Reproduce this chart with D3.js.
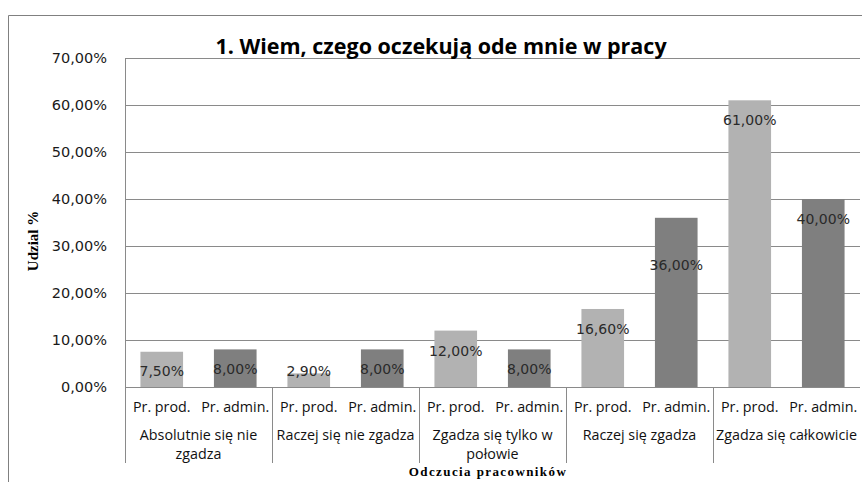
<!DOCTYPE html>
<html>
<head>
<meta charset="utf-8">
<script src="https://cdn.jsdelivr.net/npm/d3@7"></script>
<style>
  body { margin: 0; background: #fff; }
  svg { display: block; }
</style>
</head>
<body>
<svg id="chart"></svg>
<script>
const groups = ["Absolutnie się nie zgadza", "Raczej się nie zgadza", "Zgadza się tylko w połowie", "Raczej się zgadza", "Zgadza się całkowicie"];
const groupLines = [["Absolutnie się nie", "zgadza"], ["Raczej się nie zgadza"], ["Zgadza się tylko w", "połowie"], ["Raczej się zgadza"], ["Zgadza się całkowicie"]];
const series = ["Pr. prod.", "Pr. admin."];
const prodValues = [7.5, 2.9, 12.0, 16.6, 61.0];
const adminValues = [8.0, 8.0, 8.0, 36.0, 40.0];
const yTicks = [0, 10, 20, 30, 40, 50, 60, 70];

const width = 862, height = 482;
const margin = {left: 125, right: 2, top: 58, bottom: 95};
const colors = ["#b2b2b2", "#7f7f7f"];

const svg = d3.select("#chart").attr("width", width).attr("height", height);

// chart frame
svg.append("path")
  .attr("d", `M8.5,${height}V15.5H${width}`)
  .attr("fill", "none").attr("stroke", "#808080");

const x0 = d3.scaleBand().domain(groups).range([margin.left, width - margin.right]);
const x1 = d3.scaleBand().domain(series).range([0, x0.bandwidth()]).paddingInner(0.42).paddingOuter(0.21);
const y = d3.scaleLinear().domain([0, 70]).range([height - margin.bottom, margin.top]);

const fmt = v => v.toFixed(2).replace(".", ",") + "%";

// grid
svg.append("g").selectAll("line").data(yTicks.slice(1)).join("line")
  .attr("x1", margin.left).attr("x2", width - margin.right)
  .attr("y1", d => Math.round(y(d)) + 0.5).attr("y2", d => Math.round(y(d)) + 0.5)
  .attr("stroke", "#8a8a8a");

// y axis
const yAxis = svg.append("g")
  .attr("transform", `translate(${margin.left},0)`)
  .call(d3.axisLeft(y).tickValues(yTicks).tickSize(0).tickPadding(18).tickFormat(fmt));
yAxis.select(".domain").remove();
yAxis.selectAll("text").attr("font-family", "DejaVu Sans, sans-serif").attr("font-size", 14.5).attr("fill", "#1a1a1a");

svg.append("line")
  .attr("x1", margin.left + 0.5).attr("x2", margin.left + 0.5)
  .attr("y1", margin.top).attr("y2", y(0))
  .attr("stroke", "#8a8a8a");

// bars
const rows = groups.map((g, i) => ({g, i, vals: [prodValues[i], adminValues[i]]}));
const labelDy = {"3-1": 47};

const gg = svg.append("g").selectAll("g").data(rows).join("g")
  .attr("transform", d => `translate(${x0(d.g)},0)`);

gg.selectAll("rect").data(d => d.vals.map((v, k) => ({v, k, i: d.i}))).join("rect")
  .attr("x", d => x1(series[d.k]))
  .attr("width", x1.bandwidth())
  .attr("y", d => y(d.v))
  .attr("height", d => y(0) - y(d.v))
  .attr("fill", d => colors[d.k]);

gg.selectAll("text.lbl").data(d => d.vals.map((v, k) => ({v, k, i: d.i}))).join("text")
  .attr("class", "lbl")
  .attr("x", d => x1(series[d.k]) + x1.bandwidth() / 2)
  .attr("y", d => Math.min(y(d.v) + (labelDy[d.i + "-" + d.k] || 20), y(0) - 16))
  .attr("dy", "0.35em")
  .attr("text-anchor", "middle")
  .attr("font-family", "DejaVu Sans, sans-serif").attr("font-size", 14)
  .attr("fill", "#2a2a2a")
  .text(d => fmt(d.v));

// x axis baseline and dividers
const base = Math.round(y(0)) + 0.5;
svg.append("line").attr("x1", margin.left).attr("x2", width - margin.right)
  .attr("y1", base).attr("y2", base).attr("stroke", "#8a8a8a");

svg.append("g").selectAll("line").data(groups.slice(1)).join("line")
  .attr("x1", d => Math.round(x0(d)) + 0.5).attr("x2", d => Math.round(x0(d)) + 0.5)
  .attr("y1", base).attr("y2", 463)
  .attr("stroke", "#8a8a8a");

svg.append("line")
  .attr("x1", margin.left + 0.5).attr("x2", margin.left + 0.5)
  .attr("y1", base).attr("y2", 463).attr("stroke", "#8a8a8a");

// series tick labels
gg.selectAll("text.ser").data(series).join("text")
  .attr("class", "ser")
  .attr("x", d => x1(d) + x1.bandwidth() / 2)
  .attr("y", 407).attr("dy", "0.35em")
  .attr("text-anchor", "middle")
  .attr("font-family", "Open Sans, sans-serif").attr("font-size", 14.3)
  .attr("fill", "#111")
  .text(d => d);

// group labels
gg.each(function (d) {
  const t = d3.select(this).append("text")
    .attr("x", x0.bandwidth() / 2).attr("y", 435)
    .attr("text-anchor", "middle")
    .attr("font-family", "Open Sans, sans-serif").attr("font-size", 14.3)
    .attr("fill", "#111");
  groupLines[d.i].forEach((line, j) => {
    t.append("tspan").attr("x", x0.bandwidth() / 2).attr("dy", j === 0 ? "0.35em" : "19px").text(line);
  });
});

// titles
svg.append("text")
  .attr("x", 441).attr("y", 46).attr("dy", "0.35em")
  .attr("text-anchor", "middle")
  .attr("font-family", "Open Sans, sans-serif").attr("font-weight", "bold").attr("font-size", 21.5)
  .attr("fill", "#000")
  .text("1. Wiem, czego oczekują ode mnie w pracy");

svg.append("text")
  .attr("x", 488).attr("y", 471).attr("dy", "0.35em")
  .attr("text-anchor", "middle")
  .attr("font-family", "Liberation Serif, serif").attr("font-weight", "bold").attr("font-size", 13)
  .attr("letter-spacing", 1.4)
  .attr("fill", "#000")
  .text("Odczucia pracowników");

svg.append("text")
  .attr("transform", "translate(33,241) rotate(-90)")
  .attr("dy", "0.35em")
  .attr("text-anchor", "middle")
  .attr("font-family", "Liberation Serif, serif").attr("font-weight", "bold").attr("font-size", 15)
  .attr("fill", "#000")
  .text("Udzial %");
</script>
</body>
</html>
